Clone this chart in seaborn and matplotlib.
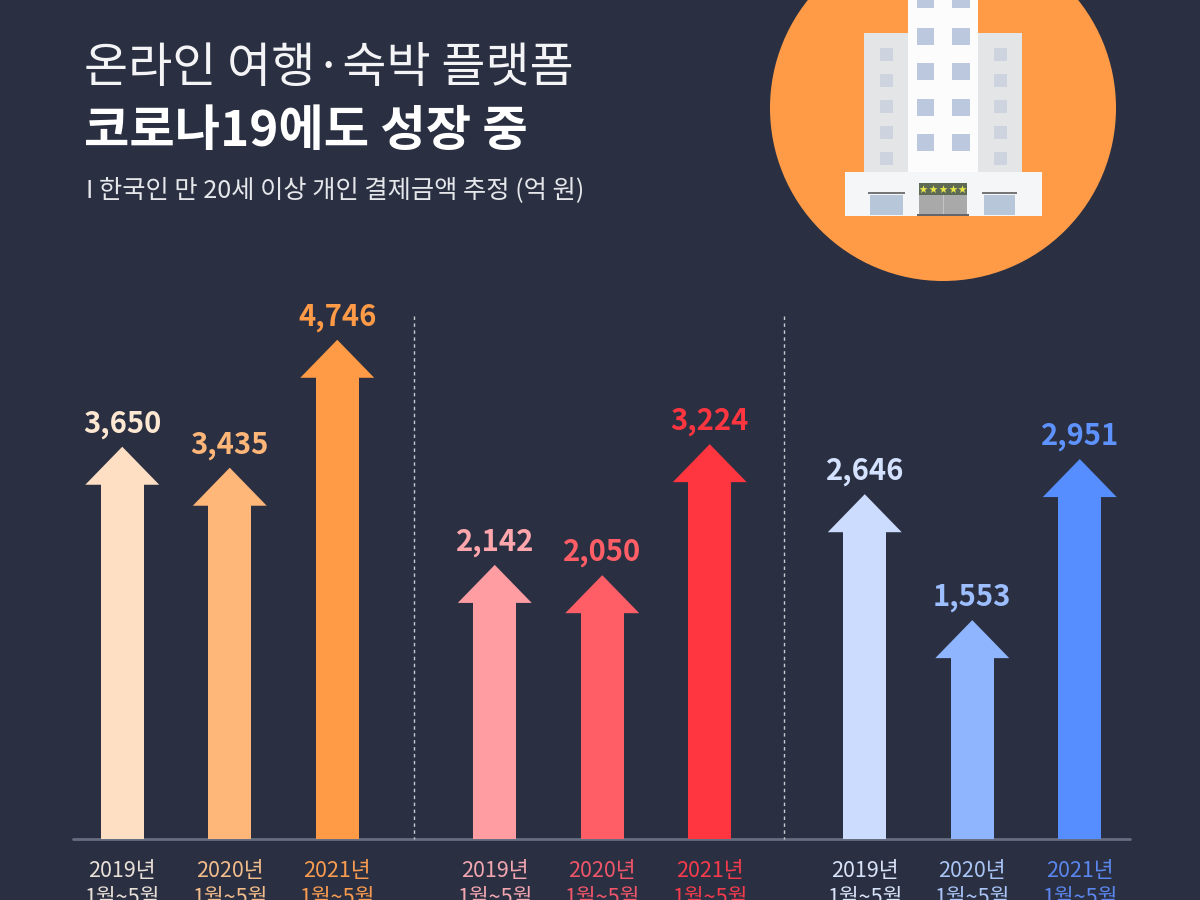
import matplotlib
matplotlib.use('Agg')
import matplotlib.pyplot as plt
from matplotlib.patches import Circle, Rectangle
import seaborn as sns

# values per platform group (억 원)
group_a = [3650, 3435, 4746]
group_b = [2142, 2050, 3224]
group_c = [2646, 1553, 2951]
periods = ['2019년\n1월~5월', '2020년\n1월~5월', '2021년\n1월~5월']

colors_a = ['#FEDFC4', '#FFB679', '#FF9A47']
colors_b = ['#FF9DA3', '#FF5E66', '#FF3540']
colors_c = ['#CCDCFF', '#8FB5FF', '#568EFF']
value_colors_a = ['#FFE8D2', '#FFB679', '#FF9A47']
value_colors_b = ['#FFA7AC', '#FF5E66', '#FF3540']
value_colors_c = ['#D5E2FF', '#9DBEFF', '#5E93FF']
tick_colors_a = ['#E9E0D8', '#F3BC8B', '#FA9C50']
tick_colors_b = ['#F2A6B0', '#F0566A', '#F53B4C']
tick_colors_c = ['#D8E2F8', '#A9C4F5', '#5A86EE']

BG = '#2A3042'
KR = ['Noto Sans CJK KR', 'DejaVu Sans']

sns.set_theme(style='dark')
plt.rcParams['font.family'] = KR
plt.rcParams['axes.unicode_minus'] = False

fig = plt.figure(figsize=(12, 9), dpi=100, facecolor=BG)

# pixel canvas for the headline, illustration and separators
bg = fig.add_axes([0, 0, 1, 1])
bg.set_xlim(0, 1200)
bg.set_ylim(900, 0)
bg.axis('off')

bg.text(84, 68, '온라인 여행·숙박 플랫폼', color='#F4F4F6', fontsize=34.5, weight='light', va='center')
bg.text(84, 132, '코로나19에도 성장 중', color='white', fontsize=35.5, weight='bold', va='center')
bg.text(86, 191, 'I 한국인 만 20세 이상 개인 결제금액 추정 (억 원)', color='#E6E7EA', fontsize=18.2, va='center')

bg.add_patch(Circle((943, 108), 173, fc='#FF9B47', ec='none'))


def rect(x0, y0, x1, y1, c, z=2):
    bg.add_patch(Rectangle((x0, y0), x1 - x0, y1 - y0, fc=c, ec='none', zorder=z))


# hotel
rect(864, 33, 908, 172, '#E4E5E7')
rect(978, 33, 1022, 172, '#E4E5E7')
rect(908, -5, 978, 172, '#FCFCFC')
rect(845, 172, 1042, 216, '#F5F6F8')
for y in [-9, 28, 63, 99, 134]:
    rect(917, y, 934, y + 17, '#BCC8DE', 3)
    rect(952, y, 970, y + 17, '#BCC8DE', 3)
for y in [48, 74, 100, 126, 152]:
    rect(880, y, 893, y + 13, '#CDD3DF', 3)
    rect(994, y, 1007, y + 13, '#CDD3DF', 3)
rect(870, 195, 903, 215, '#B8C6DA', 3)
rect(984, 195, 1015, 215, '#B8C6DA', 3)
rect(868, 192, 905, 194, '#77777A', 3)
rect(982, 192, 1017, 194, '#77777A', 3)
rect(919, 183, 967, 195, '#5F6A55', 3)
rect(919, 195, 967, 215, '#A9A9A9', 3)
rect(942.5, 195, 943.5, 215, '#C4C4C4', 4)
rect(917, 214, 969, 216, '#66666A', 4)
bg.scatter([923, 933, 943, 953, 962], [189] * 5, marker='*', s=38, c='#E8E84A', zorder=4, linewidths=0)

# baseline and separators
bg.plot([73, 1130], [839, 839], color='#666D80', lw=2, zorder=1)
for x in [414, 784]:
    bg.plot([x, x], [316, 839], color='#C9CBD2', lw=1, ls=(0, (2.5, 2.5)), zorder=1)

# (left px, values, colours, value colours, tick colours, px per unit, floor)
panels = [
    (68.5, group_a, colors_a, value_colors_a, tick_colors_a, 0.0976, -369),
    (441, group_b, colors_b, value_colors_b, tick_colors_b, 0.1116, -314),
    (811, group_c, colors_c, value_colors_c, tick_colors_c, 0.1152, -347),
]

for left, values, colors, value_colors, tick_colors, ppu, floor in panels:
    ax = fig.add_axes([left / 1200, 61 / 900, 322.5 / 1200, 639 / 900])
    ax.patch.set_alpha(0)
    head = 38 / ppu
    # shaft runs a little into the head so no seam shows
    shafts = [v - head * 0.95 - floor for v in values]
    sns.barplot(x=periods, y=shafts, hue=periods, palette=colors, legend=False,
                width=0.4, bottom=floor, saturation=1, linewidth=0, ax=ax)
    for i, v in enumerate(values):
        ax.fill([i - 0.344, i, i + 0.344], [v - head, v, v - head], color=colors[i], lw=0, clip_on=False)
        ax.annotate(f'{v:,}', (i, v), xytext=(0, 16.5), textcoords='offset points', ha='center',
                    va='center', color=value_colors[i], fontsize=21, weight='bold', family=KR)
    ax.set_xlim(-0.5, 2.5)
    ax.set_ylim(floor, floor + 639 / ppu)
    ax.set_ylabel('')
    ax.set_yticks([])
    ax.tick_params(axis='x', length=0, pad=15)
    for lab, c in zip(ax.get_xticklabels(), tick_colors):
        lab.set_color(c)
        lab.set_fontsize(15.5)
        lab.set_linespacing(1.3)
    sns.despine(ax=ax, left=True, bottom=True)

fig.savefig('out.png', dpi=100, facecolor=BG)
